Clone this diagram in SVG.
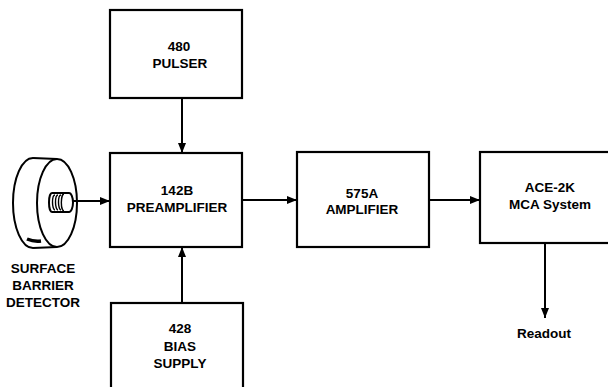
<svg xmlns="http://www.w3.org/2000/svg" width="608" height="387" viewBox="0 0 608 387">
<style>
.box{fill:#fff;stroke:#000;stroke-width:2.2}
.t{font-family:"Liberation Sans",Arial,sans-serif;font-weight:bold;font-size:13.5px;fill:#000;text-anchor:middle}
.c{stroke:#000;stroke-width:2;fill:none}
.d{stroke:#000;fill:none;stroke-width:2}
</style>
<defs>
<marker id="ah" viewBox="0 0 10 8" refX="10" refY="4" markerWidth="10" markerHeight="8" markerUnits="userSpaceOnUse" orient="auto">
<path d="M0,0 L10,4 L0,8 Z" fill="#000"/>
</marker>
</defs>
<rect width="608" height="387" fill="#fff"/>

<g id="detector">
<path class="d" d="M33,158 A20,45 0 0 0 33,248"/>
<line class="d" x1="33" y1="158" x2="57" y2="159"/>
<line class="d" x1="33" y1="248" x2="57" y2="247"/>
<ellipse class="d" cx="57" cy="203" rx="20" ry="44" fill="#fff"/>
<path d="M27,239 Q34,242 41,241" stroke="#000" stroke-width="3.5" fill="none"/>
<path class="d" d="M52,193 L69,193 A4,9.5 0 0 1 69,212 L52,212 A3,9.5 0 0 1 52,193 Z" fill="#fff" stroke-width="1.8"/>
<path d="M55,195 A2.5,7.5 0 0 0 55,210 M58,195 A2.5,7.5 0 0 0 58,210 M61,195 A2.5,7.5 0 0 0 61,210 M64,194 A2.5,8 0 0 0 64,211" stroke="#000" stroke-width="1.4" fill="none"/>
<text class="t" x="43" y="273">SURFACE</text>
<text class="t" x="43" y="290">BARRIER</text>
<text class="t" x="43" y="307">DETECTOR</text>
</g>

<g id="pulser">
<rect class="box" x="110" y="10" width="132" height="88"/>
<text class="t" x="179" y="51">480</text>
<text class="t" x="180" y="68">PULSER</text>
</g>

<g id="preamplifier">
<rect class="box" x="110" y="153" width="132" height="94"/>
<text class="t" x="177" y="195">142B</text>
<text class="t" x="177" y="212">PREAMPLIFIER</text>
</g>

<g id="amplifier">
<rect class="box" x="297" y="152" width="132" height="95"/>
<text class="t" x="362" y="198">575A</text>
<text class="t" x="362" y="214">AMPLIFIER</text>
</g>

<g id="mca">
<rect class="box" x="480" y="152" width="140" height="91"/>
<text class="t" x="550" y="192">ACE-2K</text>
<text class="t" x="550" y="209">MCA System</text>
</g>

<g id="bias">
<rect class="box" x="111" y="303" width="132" height="100"/>
<text class="t" x="180" y="333">428</text>
<text class="t" x="180" y="351">BIAS</text>
<text class="t" x="180" y="368">SUPPLY</text>
</g>

<g id="readout">
<text class="t" x="544" y="338">Readout</text>
</g>

<g id="connectors">
<line class="c" x1="72" y1="201" x2="110" y2="201" marker-end="url(#ah)"/>
<line class="c" x1="182" y1="98" x2="182" y2="153" marker-end="url(#ah)"/>
<line class="c" x1="182" y1="303" x2="182" y2="247" marker-end="url(#ah)"/>
<line class="c" x1="242" y1="200" x2="297" y2="200" marker-end="url(#ah)"/>
<line class="c" x1="429" y1="200" x2="480" y2="200" marker-end="url(#ah)"/>
<line class="c" x1="545" y1="243" x2="545" y2="318" marker-end="url(#ah)"/>
</g>
</svg>
